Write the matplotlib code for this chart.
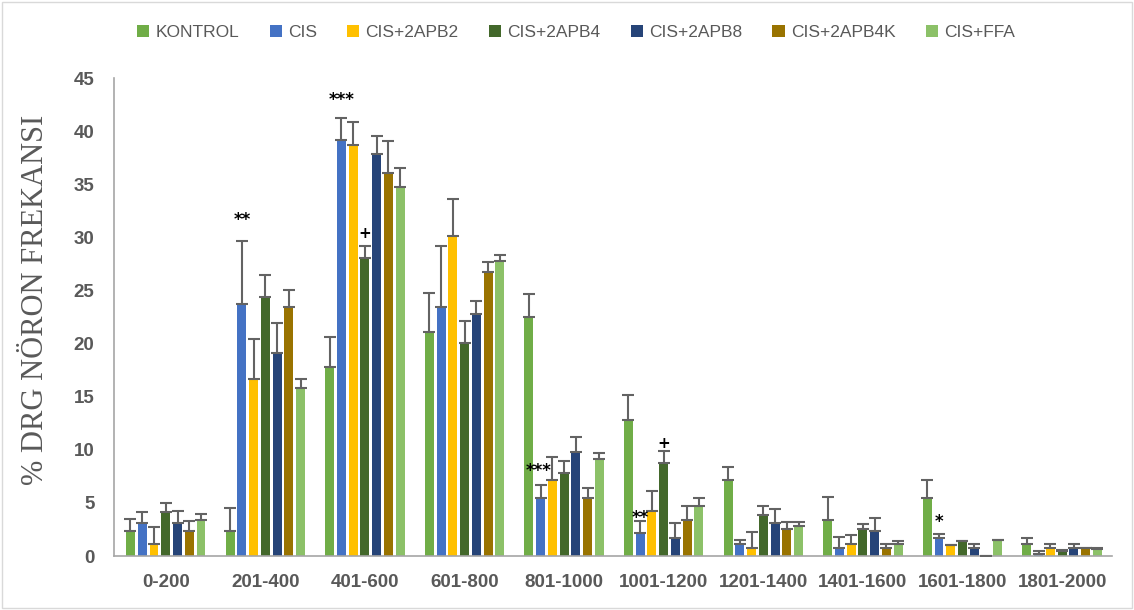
import numpy as np
import matplotlib.pyplot as plt
from matplotlib.patches import Rectangle

groups = ['0-200', '201-400', '401-600', '601-800', '801-1000', '1001-1200',
          '1201-1400', '1401-1600', '1601-1800', '1801-2000']
series = ['KONTROL', 'CIS', 'CIS+2APB2', 'CIS+2APB4', 'CIS+2APB8', 'CIS+2APB4K', 'CIS+FFA']
colors = ['#70AD47', '#4472C4', '#FFC000', '#43682B', '#264478', '#997300', '#8CC168']

kontrol = [2.4, 2.4, 17.8, 21.1, 22.5, 12.8, 7.2, 3.4, 5.5, 1.1]
cis = [3.1, 23.7, 39.2, 23.4, 5.5, 2.2, 1.1, 0.8, 1.7, 0.2]
apb2 = [1.1, 16.7, 38.7, 30.1, 7.2, 4.2, 0.8, 1.1, 1.0, 0.8]
apb4 = [4.1, 24.4, 28.1, 20.1, 7.8, 8.8, 3.9, 2.5, 1.4, 0.5]
apb8 = [3.1, 19.1, 37.8, 22.8, 9.8, 1.7, 3.1, 2.4, 0.8, 0.8]
apb4k = [2.4, 23.4, 36.1, 26.7, 5.5, 3.4, 2.5, 0.8, 0.0, 0.75]
ffa = [3.4, 15.8, 34.7, 27.8, 9.1, 4.7, 2.8, 1.1, 1.5, 0.7]

kontrol_err = [1.1, 2.1, 2.8, 3.7, 2.2, 2.4, 1.2, 2.2, 1.7, 0.6]
cis_err = [1.0, 6.0, 2.0, 5.8, 1.2, 1.1, 0.4, 1.0, 0.4, 0.25]
apb2_err = [1.6, 3.7, 2.2, 3.5, 2.1, 1.9, 1.5, 0.9, 0.05, 0.3]
apb4_err = [0.9, 2.1, 1.1, 2.0, 1.1, 1.1, 0.8, 0.5, 0.0, 0.05]
apb8_err = [1.1, 2.8, 1.7, 1.2, 1.4, 1.4, 1.3, 1.2, 0.3, 0.3]
apb4k_err = [0.9, 1.6, 3.0, 1.0, 0.9, 1.3, 0.7, 0.3, 0.0, 0.05]
ffa_err = [0.6, 0.9, 1.8, 0.5, 0.6, 0.8, 0.4, 0.3, 0.0, 0.05]

values = [kontrol, cis, apb2, apb4, apb8, apb4k, ffa]
errors = [kontrol_err, cis_err, apb2_err, apb4_err, apb8_err, apb4k_err, ffa_err]

# significance marks: (group, series, text, y)
marks = [(1, 1, '**', 31.6), (2, 1, '***', 42.9), (2, 3, '+', 30.4),
         (4, 1, '***', 8.0), (5, 1, '**', 3.6), (5, 3, '+', 10.6), (8, 1, '*', 3.2)]

fig = plt.figure(figsize=(11.34, 6.10), dpi=100)
ax = fig.add_axes([0.1005, 0.0885, 0.880, 0.7836])

x = np.arange(len(groups))
step = 0.118
width = 0.09
for i, (name, vals, errs) in enumerate(zip(series, values, errors)):
    pos = x + (i - 3) * step
    ax.bar(pos, vals, width, color=colors[i], label=name, zorder=2)
    ax.errorbar(pos, vals, yerr=[np.zeros(len(errs)), errs], fmt='none',
                ecolor='#636363', elinewidth=1.5, capsize=4, capthick=1.5, zorder=3)

for g, s, txt, yv in marks:
    xs = g + (s - 3) * step
    if txt == '***' and g == 4:
        xs -= 0.02
    ax.text(xs, yv, txt, ha='center', va='center', fontsize=12 if '*' in txt else 11,
            fontweight='bold', color='black', zorder=4)

ax.set_xlim(-0.52, 9.5)
ax.set_ylim(0, 45)
ax.set_yticks(np.arange(0, 46, 5))
ax.set_xticks(x)
ax.set_xticklabels(groups)
for lab in ax.get_xticklabels() + ax.get_yticklabels():
    lab.set_fontweight('bold')
    lab.set_color('#595959')
    lab.set_fontsize(13.5)
    lab.set_family('Liberation Sans')
ax.tick_params(axis='both', length=0)
ax.tick_params(axis='x', pad=13)
ax.tick_params(axis='y', pad=14)
for side in ['top', 'right']:
    ax.spines[side].set_visible(False)
for side in ['left', 'bottom']:
    ax.spines[side].set_color('#a6a6a6')
    ax.spines[side].set_linewidth(1.2)

ax.set_ylabel('% DRG NÖRON FREKANSI', family='Liberation Serif', fontsize=22,
              color='#595959')
ax.yaxis.set_label_coords(-0.064, 0.535)

fig.legend(loc='upper center', bbox_to_anchor=(0.508, 0.985), ncol=7, frameon=False,
           handlelength=0.7, handleheight=0.7, handletextpad=0.35, columnspacing=1.75,
           prop={'family': 'Liberation Sans', 'size': 12.5}, labelcolor='#595959')

fig.patches.append(Rectangle((0.002, 0.003), 0.996, 0.994, transform=fig.transFigure,
                             fill=False, edgecolor='#d9d9d9', linewidth=1))

fig.savefig('out.png', dpi=100)
